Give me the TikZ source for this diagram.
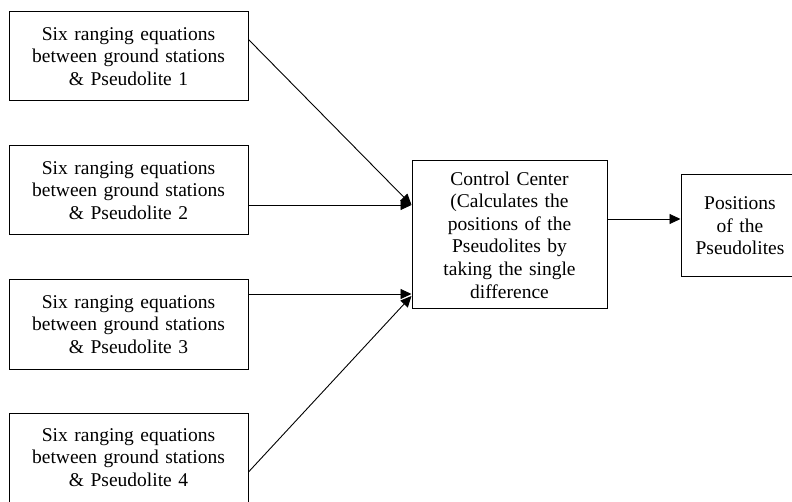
\documentclass[tikz,border=0pt]{standalone}
\usepackage{fontspec}
\setmainfont{Liberation Serif}
\usetikzlibrary{arrows.meta}
\begin{document}
\begin{tikzpicture}[x=1pt,y=-1pt,
				box/.style={rectangle, draw, line width=1pt, inner sep=0pt, align=center, font=\fontsize{19.5}{22.6}\selectfont},
				ranging/.style={box, minimum width=239pt, minimum height=89pt, text width=235pt},
				flow/.style={line width=0.9pt, -{Triangle[length=11pt,width=10pt]}}
				]
				\useasboundingbox (0,0) rectangle (792,502);
				
				% ranging equations per pseudolite
				\node[ranging] (p1) at (128.5,56.5) {Six ranging equations\\between ground stations\\\& Pseudolite 1};
				\node[ranging] (p2) at (128.5,190.5) {Six ranging equations\\between ground stations\\\& Pseudolite 2};
				\node[ranging] (p3) at (128.5,324.5) {Six ranging equations\\between ground stations\\\& Pseudolite 3};
				\node[ranging] (p4) at (128.5,457.5) {Six ranging equations\\between ground stations\\\& Pseudolite 4};
				
				\node[box, minimum width=195pt, minimum height=148pt, text width=190pt] (cc) at (509.5,235)
				{Control Center\\(Calculates the\\positions of the\\Pseudolites by\\taking the single\\difference};
				
				\node[box, minimum width=118pt, minimum height=102pt, text width=116pt] (pos) at (740,226)
				{Positions\\of the\\Pseudolites\\[8pt]};
				
				\draw[flow] ([yshift=-28pt]p1.north east) -- ([yshift=30pt]cc.west);
				\draw[flow] ([yshift=-14.5pt]p2.east) -- ([yshift=30pt]cc.west);
				\draw[flow] ([yshift=30.5pt]p3.east) -- ([yshift=-59pt]cc.west);
				\draw[flow] ([yshift=-14.5pt]p4.east) -- ([yshift=-61pt]cc.west);
				
				\draw[flow] ([yshift=16pt]cc.east) -- ([yshift=16pt]cc.east -| pos.west);
\end{tikzpicture}
\end{document}
